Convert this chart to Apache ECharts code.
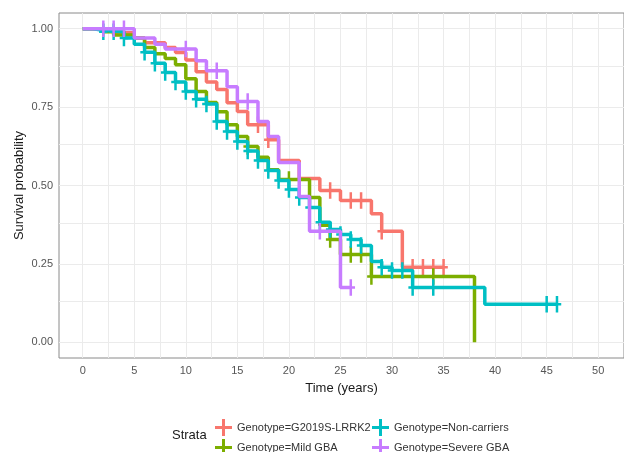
<!DOCTYPE html>
<html lang="en">
  <head>
    <meta charset="utf-8" />
    <title>Survival probability by genotype</title>
    <style>
      * {
        margin: 0;
        padding: 0;
      }

      #chart-container {
        position: relative;
        width: 624px;
        height: 452px;
        overflow: hidden;
        background: #fff;
      }
    </style>
  </head>

  <body>
    <div id="chart-container"></div>
    <script src="https://fastly.jsdelivr.net/npm/echarts@6/dist/echarts.min.js"></script>
    <script>
      // strata, in ggplot order
      var strata = [
        "Genotype=G2019S-LRRK2",
        "Genotype=Mild GBA",
        "Genotype=Non-carriers",
        "Genotype=Severe GBA",
      ];
      var colors = ["#F8766D", "#7CAE00", "#00BFC4", "#C77CFF"];

      // Kaplan-Meier steps: time (years) and survival after that time
      var redTime = [0, 1, 3, 5, 6, 8, 9, 10, 11, 12, 13, 14, 15, 16, 18, 19, 21, 23, 25, 28, 29, 31, 35];
      var redSurv = [1, 0.995, 0.987, 0.97, 0.955, 0.94, 0.924, 0.9, 0.863, 0.83, 0.806, 0.764, 0.736, 0.694, 0.646, 0.58, 0.522, 0.484, 0.452, 0.41, 0.354, 0.239, 0.239];
      var redCensor = [17, 18, 24, 26, 27, 29, 32, 33, 34, 35];

      var greenTime = [0, 2, 3, 5, 6, 7, 8, 9, 10, 11, 12, 13, 14, 15, 16, 17, 18, 19, 22, 23, 24, 25, 28, 38];
      var greenSurv = [1, 0.99, 0.98, 0.97, 0.94, 0.92, 0.905, 0.885, 0.84, 0.8, 0.765, 0.735, 0.694, 0.656, 0.624, 0.59, 0.55, 0.519, 0.462, 0.373, 0.328, 0.28, 0.21, 0];
      var greenCensor = [16, 20, 24, 26, 27, 28, 34];

      var tealTime = [0, 1, 2, 4, 5, 6, 7, 8, 9, 10, 11, 12, 13, 14, 15, 16, 17, 18, 19, 20, 21, 22, 23, 24, 25, 26, 27, 28, 29, 30, 32, 39, 46];
      var tealSurv = [1, 0.995, 0.99, 0.97, 0.95, 0.925, 0.89, 0.86, 0.83, 0.8, 0.775, 0.76, 0.704, 0.672, 0.64, 0.61, 0.58, 0.548, 0.516, 0.487, 0.462, 0.43, 0.383, 0.36, 0.344, 0.328, 0.309, 0.258, 0.239, 0.229, 0.175, 0.121, 0.121];
      var tealCensor = [2, 3, 4, 6, 7, 8, 9, 10, 11, 12, 13, 14, 15, 16, 17, 18, 19, 20, 21, 22, 23, 24, 25, 26, 27, 29, 30, 31, 32, 34, 45, 46];

      var purpleTime = [0, 5, 7, 8, 11, 12, 14, 15, 17, 18, 19, 21, 22, 25, 26];
      var purpleSurv = [1, 0.97, 0.95, 0.935, 0.898, 0.866, 0.815, 0.768, 0.704, 0.656, 0.573, 0.465, 0.354, 0.175, 0.175];
      var purpleCensor = [2, 3, 4, 10, 13, 16, 23, 26];

      // axis ticks and grid
      var xTicks = [0, 5, 10, 15, 20, 25, 30, 35, 40, 45, 50];
      var xGrid = [0, 2.5, 5, 7.5, 10, 12.5, 15, 17.5, 20, 22.5, 25, 27.5, 30, 32.5, 35, 37.5, 40, 42.5, 45, 47.5, 50];
      var yTicks = [0, 0.25, 0.5, 0.75, 1];
      var yGrid = [0, 0.125, 0.25, 0.375, 0.5, 0.625, 0.75, 0.875, 1];

      var curves = [
        [redTime, redSurv, redCensor],
        [greenTime, greenSurv, greenCensor],
        [tealTime, tealSurv, tealCensor],
        [purpleTime, purpleSurv, purpleCensor],
      ];

      function survAt(times, surv, t) {
        var s = surv[0];
        for (var i = 0; i < times.length; i++) {
          if (times[i] <= t) s = surv[i];
        }
        return s;
      }

      var font = "'Liberation Sans', Arial, sans-serif";
      // censor mark: tall thin plus, short horizontal arm
      var plusMark = "path://M3,0h2.5v7h3v2.5h-3v7h-2.5v-7h-3v-2.5h3z";
      var plusIcon = "path://M7,0h3v7h7v3h-7v7h-3v-7h-7v-3h7z";

      var series = [
        {
          // light grid lines, kept under the curves
          type: "line",
          data: [],
          z: 1,
          silent: true,
          markLine: {
            silent: true,
            z: 1,
            symbol: "none",
            animation: false,
            label: { show: false },
            lineStyle: { color: "#ebebeb", width: 1, type: "solid" },
            data: xGrid
              .map(function (v) {
                return { xAxis: v };
              })
              .concat(
                yGrid.map(function (v) {
                  return { yAxis: v };
                })
              ),
          },
        },
      ];

      curves.forEach(function (c, k) {
        var times = c[0],
          surv = c[1],
          cens = c[2];
        series.push({
          name: strata[k],
          type: "line",
          step: "end",
          symbol: "none",
          z: 10 + k,
          color: colors[k],
          lineStyle: { width: 3.5, color: colors[k] },
          data: times.map(function (t, i) {
            return [t, surv[i]];
          }),
        });
        series.push({
          name: strata[k],
          type: "scatter",
          symbol: plusMark,
          symbolSize: [8.5, 16.5],
          z: 10 + k,
          silent: true,
          color: colors[k],
          itemStyle: { color: colors[k], opacity: 1 },
          data: cens.map(function (t) {
            return [t, survAt(times, surv, t)];
          }),
        });
      });

      function legendItem(k, left, top) {
        return {
          data: [strata[k]],
          left: left,
          top: top,
          padding: 0,
          icon: plusIcon,
          itemWidth: 17,
          itemHeight: 17,
          selectedMode: false,
          textStyle: { fontFamily: font, fontSize: 11, color: "#333" },
        };
      }

      var dom = document.getElementById("chart-container");
      var myChart = echarts.init(dom, null, { renderer: "canvas" });

      var option = {
        animation: false,
        backgroundColor: "#fff",
        title: {
          text: "Strata",
          left: 172,
          top: 429,
          padding: 0,
          textStyle: { fontFamily: font, fontSize: 13, fontWeight: "normal", color: "#1a1a1a" },
        },
        legend: [
          legendItem(0, 215, 419),
          legendItem(2, 372, 419),
          legendItem(1, 215, 439),
          legendItem(3, 372, 439),
        ],
        grid: {
          left: 59,
          top: 13,
          width: 568,
          height: 345,
          show: true,
          borderColor: "#8a8a8a",
          borderWidth: 1,
          backgroundColor: "#fff",
          containLabel: false,
        },
        xAxis: {
          type: "value",
          min: -2.3,
          max: 52.5,
          name: "Time (years)",
          nameLocation: "middle",
          nameGap: 24,
          nameTextStyle: { fontFamily: font, fontSize: 13, color: "#1a1a1a" },
          axisLine: { show: false },
          splitLine: { show: false },
          axisTick: { show: true, length: 4, lineStyle: { color: "#555" }, customValues: xTicks },
          axisLabel: {
            customValues: xTicks,
            margin: 7,
            fontFamily: font,
            fontSize: 11,
            color: "#555",
          },
        },
        yAxis: {
          type: "value",
          min: -0.05,
          max: 1.05,
          name: "Survival probability",
          nameLocation: "middle",
          nameGap: 33,
          nameMoveOverlap: false,
          nameTextStyle: { fontFamily: font, fontSize: 13, color: "#1a1a1a" },
          axisLine: { show: false },
          splitLine: { show: false },
          axisTick: { show: true, length: 4, lineStyle: { color: "#555" }, customValues: yTicks },
          axisLabel: {
            customValues: yTicks,
            margin: 6,
            fontFamily: font,
            fontSize: 11,
            color: "#555",
            formatter: function (v) {
              return v.toFixed(2);
            },
          },
        },
        series: series,
      };

      myChart.setOption(option);
      window.addEventListener("resize", myChart.resize);
    </script>
  </body>
</html>
